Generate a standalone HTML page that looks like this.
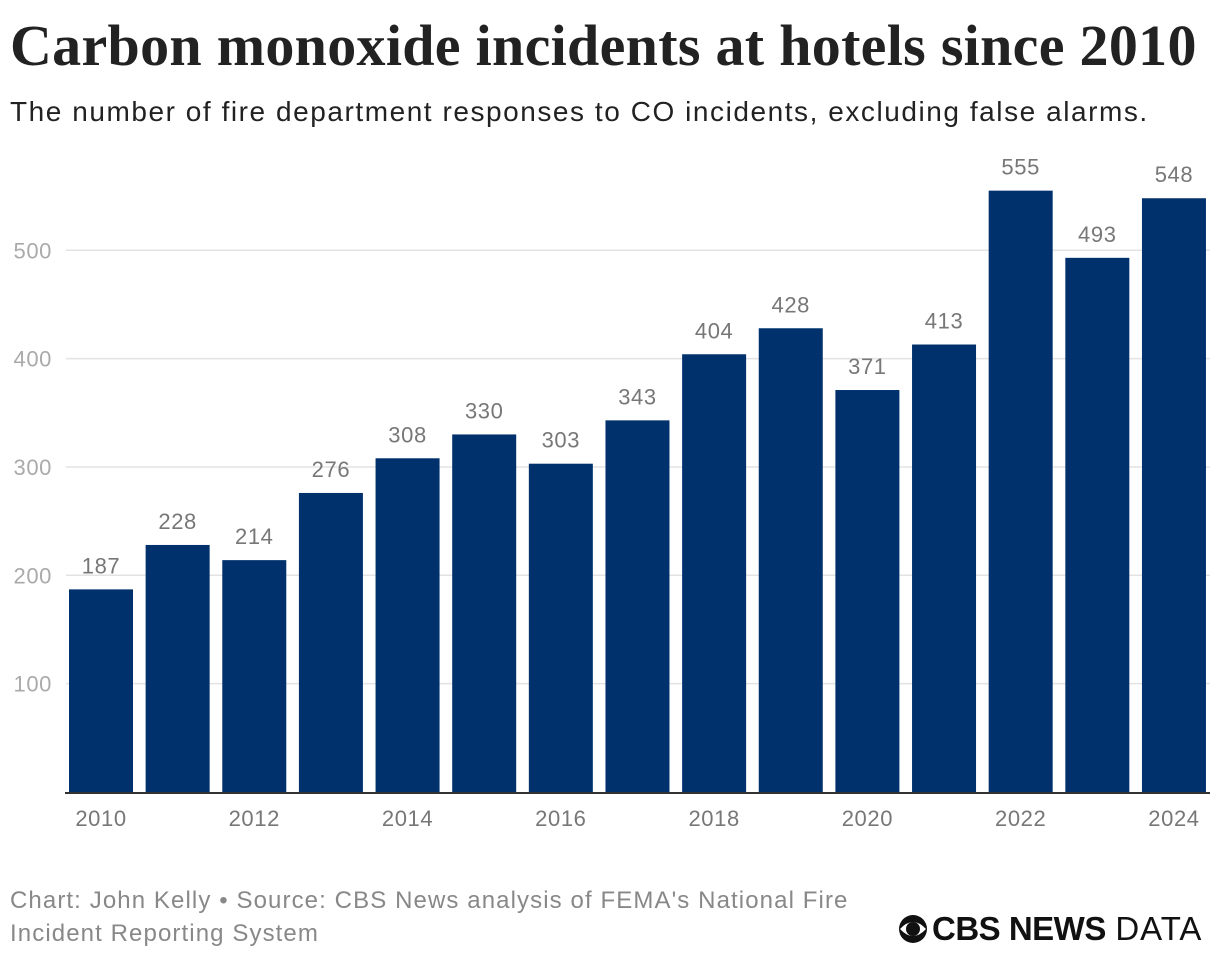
<!DOCTYPE html>
<html><head><meta charset="utf-8"><style>
body{margin:0;width:1220px;height:960px;background:#fff;overflow:hidden;font-family:"Liberation Sans",sans-serif;}
#title{position:absolute;left:10px;top:12px;font-family:"Liberation Serif",serif;font-weight:bold;font-size:58px;color:#222;letter-spacing:0.3px;white-space:nowrap;}
#sub{position:absolute;left:10px;top:96px;font-size:28px;color:#222;letter-spacing:1.55px;white-space:nowrap;}
#foot{position:absolute;left:10px;top:884px;font-size:24px;line-height:33px;color:#888;letter-spacing:1.1px;}
#logo{position:absolute;left:896px;top:910px;font-size:33px;color:#111;white-space:nowrap;display:flex;align-items:center;letter-spacing:0.3px;}
svg{position:absolute;left:0;top:0;}
</style></head><body>
<div id="title">Carbon monoxide incidents at hotels since 2010</div>
<div id="sub">The number of fire department responses to CO incidents, excluding false alarms.</div>
<svg id="chart" width="1220" height="960"></svg>
<div id="foot">Chart: John Kelly • Source: CBS News analysis of FEMA's National Fire<br>Incident Reporting System</div>
<div id="logo"><svg style="position:static;margin-right:2px" width="34" height="30" viewBox="0 0 34 30"><circle cx="17" cy="15" r="14" fill="#111"/><path d="M4 15 Q17 1 30 15 Q17 29 4 15Z" fill="#fff"/><circle cx="17" cy="15" r="7" fill="#111"/></svg><b style="letter-spacing:-0.5px">CBS NEWS</b>&nbsp;<span style="letter-spacing:1px">DATA</span></div>
<script>
const years=[2010,2011,2012,2013,2014,2015,2016,2017,2018,2019,2020,2021,2022,2023,2024];
const values=[187,228,214,276,308,330,303,343,404,428,371,413,555,493,548];
const yTicks=[100,200,300,400,500];
const ns="http://www.w3.org/2000/svg";
const svg=document.getElementById('chart');
const y0=792,pxPer=1.0835,x0=69,pitch=76.64,bw=64;
const ys=v=>y0-v*pxPer, xs=i=>x0+i*pitch;
function mk(t,a){const e=document.createElementNS(ns,t);for(const k in a)e.setAttribute(k,a[k]);svg.appendChild(e);return e;}
yTicks.forEach(t=>{
 const l=mk('line',{x1:66,x2:1210,y1:ys(t),y2:ys(t),stroke:'#e3e3e3','stroke-width':1.5});
 
 
 const tx=mk('text',{x:52,y:ys(t)+8,'text-anchor':'end','font-size':22,fill:'#aaa','letter-spacing':0.6,'font-family':'Liberation Sans, sans-serif'});
 tx.textContent=t;
 
 
});
values.forEach((v,i)=>{
 const r=mk('rect',{x:xs(i),y:ys(v),width:bw,height:v*pxPer,fill:'#00316c'});
 
 
 const t=mk('text',{x:xs(i)+bw/2,y:ys(v)-16,'text-anchor':'middle','font-size':22,fill:'#777','letter-spacing':0.6,'font-family':'Liberation Sans, sans-serif'});
 t.textContent=v;
 
 
 if(i%2===0){
  const xt=mk('text',{x:xs(i)+bw/2,y:826,'text-anchor':'middle','font-size':22,fill:'#777','letter-spacing':0.6,'font-family':'Liberation Sans, sans-serif'});
  xt.textContent=years[i];
  
  
 }
});
const ax=mk('line',{x1:65,x2:1210,y1:y0+1,y2:y0+1,stroke:'#333','stroke-width':2});


</script>
</body></html>
